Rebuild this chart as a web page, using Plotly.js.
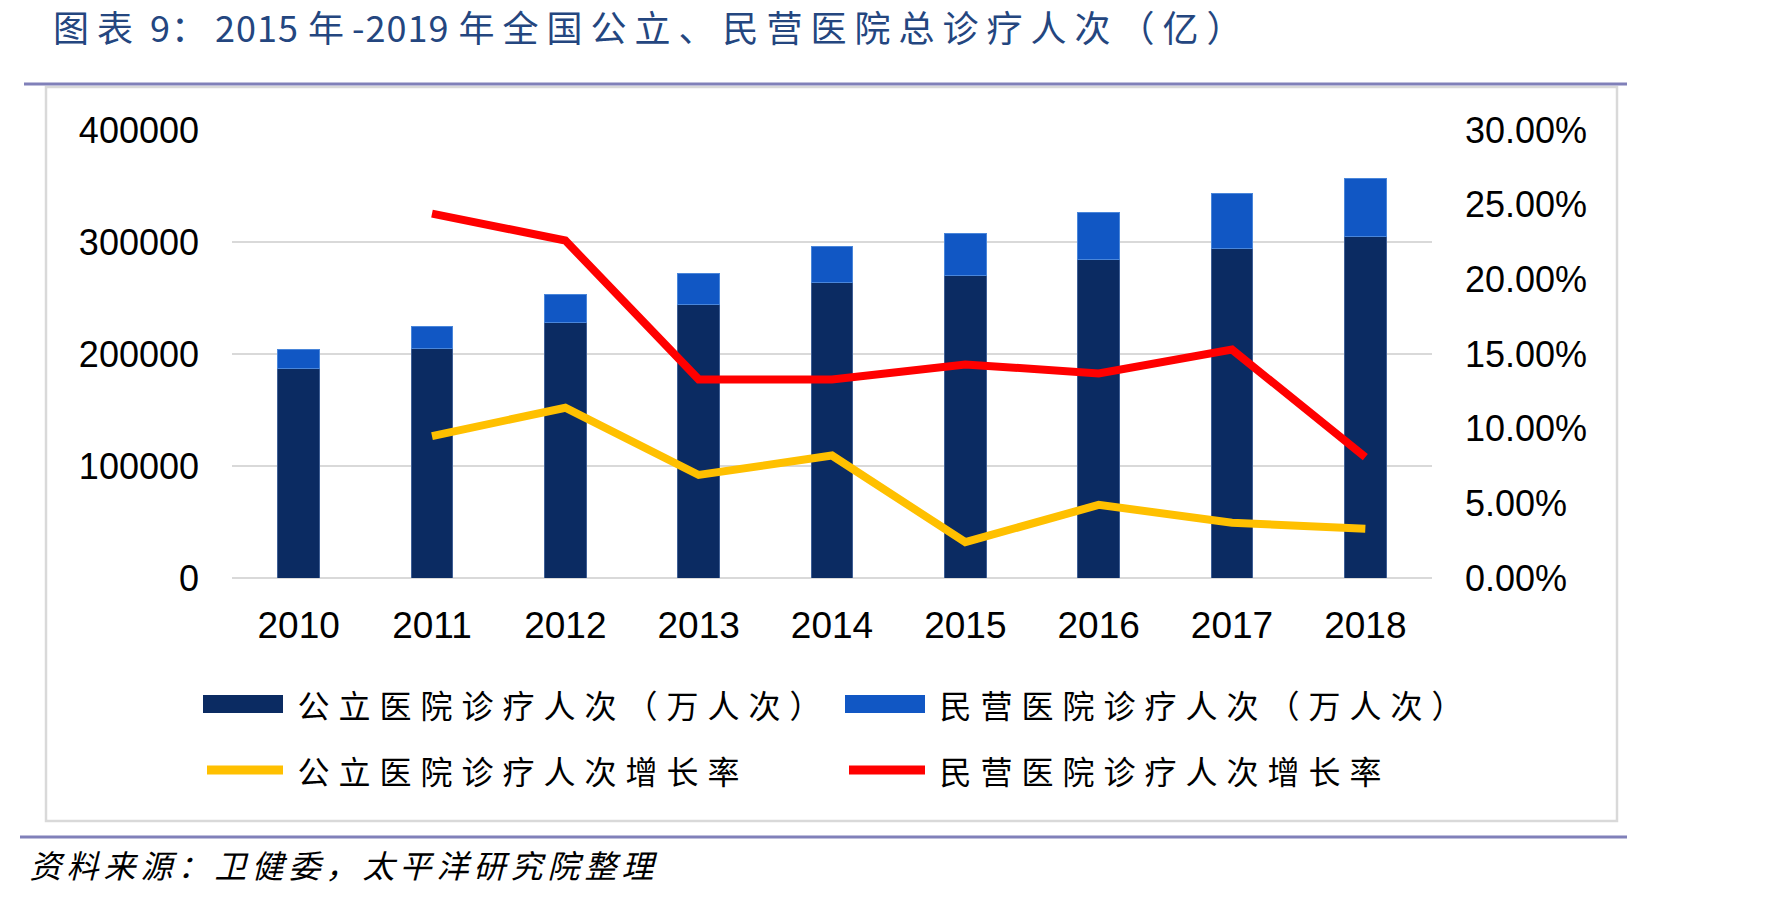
<!DOCTYPE html>
<html>
<head>
<meta charset="utf-8">
<script src="https://cdn.plot.ly/plotly-3.0.1.min.js"></script>
<style>
  html, body { margin: 0; padding: 0; background: #ffffff; }
  #chart { width: 1782px; height: 897px; }
  /* widen CJK tracking of the legend labels, source note and heading */
  g.annotation[data-index="0"] text,
  g.annotation[data-index="1"] text,
  g.annotation[data-index="2"] text,
  g.annotation[data-index="3"] text { letter-spacing: 9px; }
  g.annotation[data-index="4"] text { letter-spacing: 5px; }
  g.annotation[data-index="5"] text { letter-spacing: 8px; }
</style>
</head>
<body>
<div id="chart"></div>
<script>
// 年份
const years = ['2010', '2011', '2012', '2013', '2014', '2015', '2016', '2017', '2018'];
// 公立医院诊疗人次（万人次）
const publicVisits = [187000, 204500, 228500, 244000, 264000, 270500, 284000, 294500, 305000];
// 民营医院诊疗人次（万人次）
const privateVisits = [16600, 20500, 24800, 28300, 32400, 37200, 41900, 48400, 51900];
// 公立医院诊疗人次增长率
const publicGrowth = [null, 0.095, 0.114, 0.069, 0.082, 0.024, 0.049, 0.037, 0.033];
// 民营医院诊疗人次增长率
const privateGrowth = [null, 0.244, 0.226, 0.133, 0.133, 0.143, 0.137, 0.153, 0.081];

const seriesNames = [
  '公立医院诊疗人次（万人次）',
  '民营医院诊疗人次（万人次）',
  '公立医院诊疗人次增长率',
  '民营医院诊疗人次增长率'
];
const colors = ['#0B2B62', '#1157C4', '#FFC000', '#FF0000'];

const titleText = '图表 9：2015 年-2019 年全国公立、民营医院总诊疗人次（亿）';
const sourceText = '资料来源：卫健委，太平洋研究院整理';

// page geometry of the plotting area
const W = 1782, H = 897;
const L = 232, R = 1432, T = 130, B = 578;
const px = x => (x - L) / (R - L);
const py = y => (B - y) / (B - T);

const cjk = '"Noto Sans CJK SC", "Noto Sans", sans-serif';
const latin = '"Liberation Sans", Arial, sans-serif';

// annotation text is centred on its measured box, so extra tracking
// spreads both ways; shift right by half the added width to keep the left edge
const LEGEND_TRACKING = 9, SOURCE_TRACKING = 5, TITLE_TRACKING = 8, TITLE_LATIN_TRACKING = 1;
const trackShift = (s, t) => Array.from(s).length * t / 2;

// heading: Latin digits stay tightly set, CJK glyphs get wide tracking
const latinRun = /[0-9\- ]+/g;
const titleMarkup = titleText.replace(latinRun,
  m => '<span style="letter-spacing:' + TITLE_LATIN_TRACKING + 'px">' + m + '</span>');
const titleLatinCount = (titleText.match(latinRun) || []).join('').length;
const titleOtherCount = Array.from(titleText).length - titleLatinCount;
const titleShift = (titleLatinCount * TITLE_LATIN_TRACKING + titleOtherCount * TITLE_TRACKING) / 2;

const traces = [
  {
    type: 'bar', x: years, y: publicVisits, name: seriesNames[0],
    marker: { color: colors[0], line: { color: '#3F5F95', width: 1 } },
    hoverinfo: 'x+y'
  },
  {
    type: 'bar', x: years, y: privateVisits, name: seriesNames[1],
    marker: { color: colors[1], line: { color: '#4A86DA', width: 1 } },
    hoverinfo: 'x+y'
  },
  {
    type: 'scatter', mode: 'lines', x: years, y: publicGrowth, name: seriesNames[2],
    yaxis: 'y2', line: { color: colors[2], width: 8 }, connectgaps: false
  },
  {
    type: 'scatter', mode: 'lines', x: years, y: privateGrowth, name: seriesNames[3],
    yaxis: 'y2', line: { color: colors[3], width: 8 }, connectgaps: false
  }
];

// hand-drawn legend: swatches + labels
const legendRows = [
  { x: 203, y: 704, kind: 'rect', color: colors[0], label: seriesNames[0] },
  { x: 845, y: 704, kind: 'rect', color: colors[1], label: seriesNames[1] },
  { x: 203, y: 770, kind: 'line', color: colors[2], label: seriesNames[2] },
  { x: 845, y: 770, kind: 'line', color: colors[3], label: seriesNames[3] }
];

const shapes = [
  // outer frame of the chart
  { type: 'rect', xref: 'paper', yref: 'paper',
    x0: px(46), x1: px(1617), y0: py(87), y1: py(821),
    line: { color: '#D9D9D9', width: 2.5 }, fillcolor: 'rgba(0,0,0,0)', layer: 'below' },
  // rule under the heading
  { type: 'line', xref: 'paper', yref: 'paper',
    x0: px(24), x1: px(1627), y0: py(84), y1: py(84),
    line: { color: '#8080B9', width: 3 } },
  // rule above the source note
  { type: 'line', xref: 'paper', yref: 'paper',
    x0: px(20), x1: px(1627), y0: py(837), y1: py(837),
    line: { color: '#8080B9', width: 3 } }
];

const annotations = [];
legendRows.forEach(item => {
  if (item.kind === 'rect') {
    shapes.push({ type: 'rect', xref: 'paper', yref: 'paper',
      x0: px(item.x), x1: px(item.x + 80), y0: py(item.y - 9), y1: py(item.y + 9),
      line: { width: 0 }, fillcolor: item.color });
  } else {
    shapes.push({ type: 'path', xref: 'paper', yref: 'paper',
      path: 'M' + px(item.x + 4) + ',' + py(item.y) + ' L' + px(item.x + 80) + ',' + py(item.y),
      line: { color: item.color, width: 9 } });
  }
  annotations.push({
    xref: 'paper', yref: 'paper', x: px(item.x + 92), y: py(item.y),
    xanchor: 'left', yanchor: 'middle', showarrow: false,
    xshift: trackShift(item.label, LEGEND_TRACKING),
    text: item.label, font: { family: cjk, size: 32, color: '#000000' }
  });
});

// source note
annotations.push({
  xref: 'paper', yref: 'paper', x: px(27), y: py(864),
  xanchor: 'left', yanchor: 'middle', showarrow: false,
  xshift: trackShift(sourceText, SOURCE_TRACKING),
  text: sourceText, font: { family: cjk, size: 32, color: '#000000', style: 'italic' }
});

// heading
annotations.push({
  xref: 'paper', yref: 'paper', x: px(44), y: py(26),
  xanchor: 'left', yanchor: 'middle', showarrow: false,
  xshift: titleShift,
  text: titleMarkup, font: { family: cjk, size: 36, color: '#24467F' }
});

const layout = {
  width: W, height: H,
  margin: { l: L, r: W - R, t: T, b: H - B, pad: 0 },
  paper_bgcolor: '#ffffff', plot_bgcolor: '#ffffff',
  showlegend: false,
  barmode: 'stack',
  bargap: 0.687,
  xaxis: {
    type: 'category',
    showgrid: false, zeroline: false, showline: false, ticks: '',
    tickfont: { family: latin, size: 37, color: '#000000' },
    ticklabelstandoff: 22
  },
  yaxis: {
    range: [0, 400000], dtick: 100000, tickformat: 'd',
    showgrid: true, gridcolor: '#D9D9D9', gridwidth: 2.5,
    zeroline: true, zerolinecolor: '#D9D9D9', zerolinewidth: 2.5,
    showline: false, ticks: '',
    tickfont: { family: latin, size: 36, color: '#000000' },
    ticklabelstandoff: 32
  },
  yaxis2: {
    overlaying: 'y', side: 'right',
    range: [0, 0.3], dtick: 0.05, tickformat: '.2%',
    showgrid: false, zeroline: false, showline: false, ticks: '',
    tickfont: { family: latin, size: 36, color: '#000000' },
    ticklabelstandoff: 32
  },
  shapes: shapes,
  annotations: annotations
};

Plotly.newPlot('chart', traces, layout, { displayModeBar: false, staticPlot: true });
</script>
</body>
</html>
